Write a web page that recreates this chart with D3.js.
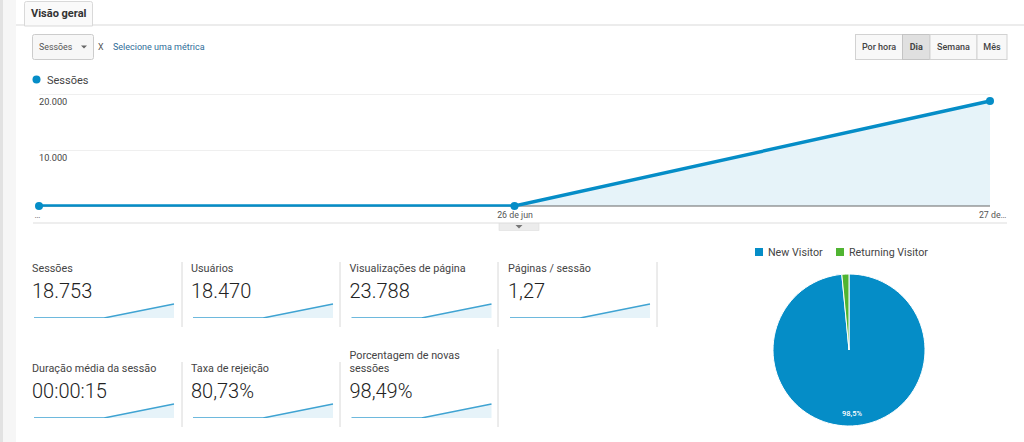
<!DOCTYPE html>
<html>
  <head>
    <meta charset="utf-8">
    <style>
      html, body { margin: 0; padding: 0; background: #fff; overflow: hidden; }
      svg { display: block; font-family: Roboto, sans-serif; }
      .axis .domain { display: none; }
    </style>
  </head>
  <body>
    <script src="https://d3js.org/d3.v7.min.js"></script>
    <script type="text/javascript">
      const dates = ['…', '26 de jun', '27 de…'];
      const sessions = [0, 0, 18753];
      const yTicks = [10000, 20000];
      const yTickLabels = ['10.000', '20.000'];

      const cardTitles = [
        ['Sessões'], ['Usuários'], ['Visualizações de página'], ['Páginas / sessão'],
        ['Duração média da sessão'], ['Taxa de rejeição'], ['Porcentagem de novas', 'sessões'],
      ];
      const cardValues = ['18.753', '18.470', '23.788', '1,27', '00:00:15', '80,73%', '98,49%'];
      const sparkValues = [
        [0, 0, 18753], [0, 0, 18470], [0, 0, 23788], [0, 0, 1.27],
        [0, 0, 15], [0, 0, 80.73], [0, 0, 98.49],
      ];

      const visitorTypes = ['New Visitor', 'Returning Visitor'];
      const visitorShares = [98.49, 1.51];
      const visitorColors = ['#058dc7', '#50b432'];

      const periods = ['Por hora', 'Dia', 'Semana', 'Mês'];

      const blue = '#058dc7';
      const textColor = '#444';

      const svg = d3.select('body').append('svg')
        .attr('width', 1024)
        .attr('height', 442);

      // clips cut the flat part of the lines at the baseline
      const defs = svg.append('defs');
      defs.append('clipPath').attr('id', 'main-clip')
        .append('rect').attr('x', 30).attr('y', 90).attr('width', 970).attr('height', 116.8);
      defs.append('clipPath').attr('id', 'spark-clip')
        .append('rect').attr('x', 0).attr('y', 28).attr('width', 144).attr('height', 18);

      // page chrome
      svg.append('rect').attr('width', 3).attr('height', 442).attr('fill', '#e2e2e2');
      svg.append('rect').attr('x', 3).attr('width', 13).attr('height', 442).attr('fill', '#f6f6f6');
      svg.append('line').attr('x1', 16).attr('x2', 1024).attr('y1', 25).attr('y2', 25)
        .attr('stroke', '#d9d9d9').attr('stroke-width', 1.2);
      svg.append('path')
        .attr('d', 'M24.5,26V3.5q0,-2 2,-2H90.5q2,0 2,2V26Z')
        .attr('fill', '#fafafa').attr('stroke', '#d9d9d9');
      svg.append('text').attr('x', 31).attr('y', 17)
        .attr('font-size', 11).attr('font-weight', 700).attr('fill', '#333')
        .text('Visão geral');

      // metric selector
      svg.append('rect').attr('x', 32.5).attr('y', 34.5).attr('width', 61).attr('height', 25).attr('rx', 2)
        .attr('fill', '#f7f7f7').attr('stroke', '#ccc');
      svg.append('text').attr('x', 39).attr('y', 50).attr('font-size', 8.8).attr('fill', '#555').text('Sessões');
      svg.append('path').attr('d', 'M81,45.5h6l-3,3Z').attr('fill', '#666');
      svg.append('text').attr('x', 98).attr('y', 50).attr('font-size', 8.8).attr('fill', '#555').text('X');
      svg.append('text').attr('x', 113).attr('y', 50).attr('font-size', 9).attr('fill', '#2f6d99')
        .text('Selecione uma métrica');

      // period buttons
      const periodEdges = [855.5, 902.5, 930, 977, 1007];
      const buttons = svg.append('g').selectAll('g').data(periods).enter().append('g');
      buttons.append('rect')
        .attr('x', (d, i) => periodEdges[i])
        .attr('y', 34.5)
        .attr('width', (d, i) => periodEdges[i + 1] - periodEdges[i])
        .attr('height', 25)
        .attr('fill', (d) => d === 'Dia' ? '#e0e0e0' : '#f8f8f8')
        .attr('stroke', (d) => d === 'Dia' ? '#c4c4c4' : '#d2d2d2');
      buttons.append('text')
        .attr('x', (d, i) => (periodEdges[i] + periodEdges[i + 1]) / 2)
        .attr('y', 50)
        .attr('text-anchor', 'middle')
        .attr('font-size', 9)
        .attr('font-weight', (d) => d === 'Dia' ? 700 : 500)
        .attr('fill', '#444')
        .text((d) => d);

      // main chart
      svg.append('circle').attr('cx', 36.5).attr('cy', 79.5).attr('r', 4).attr('fill', blue);
      svg.append('text').attr('x', 47).attr('y', 84).attr('font-size', 11).attr('fill', textColor).text('Sessões');

      const xScale = d3.scalePoint().domain(dates).range([39, 990]);
      const yScale = d3.scaleLinear().domain([0, 20000]).range([206, 94]);

      const yAxis = svg.append('g')
        .attr('class', 'axis')
        .attr('transform', 'translate(39,0)')
        .call(d3.axisRight(yScale)
          .tickValues(yTicks)
          .tickSize(951)
          .tickPadding(0)
          .tickFormat((d, i) => yTickLabels[i]));
      yAxis.selectAll('line').attr('stroke', '#efefef');
      yAxis.selectAll('text')
        .attr('x', 0)
        .attr('dy', 10)
        .attr('font-family', 'Roboto, sans-serif')
        .attr('font-size', 9.2)
        .attr('fill', textColor);

      const area = d3.area()
        .x((d, i) => xScale(dates[i]))
        .y0(yScale(0))
        .y1((d) => yScale(d));
      const line = d3.line()
        .x((d, i) => xScale(dates[i]))
        .y((d) => yScale(d));

      svg.append('path').datum(sessions).attr('d', area).attr('fill', '#e6f3f9');

      const xAxis = svg.append('g')
        .attr('class', 'axis')
        .attr('transform', 'translate(0,206)')
        .call(d3.axisBottom(xScale).tickSize(0).tickPadding(6));
      xAxis.selectAll('text')
        .attr('font-family', 'Roboto, sans-serif')
        .attr('font-size', 8.8)
        .attr('fill', '#555');
      xAxis.selectAll('.tick').filter((d, i) => i === 0).select('text').attr('text-anchor', 'start').attr('x', -5);
      xAxis.selectAll('.tick').filter((d, i) => i === 2).select('text').attr('text-anchor', 'end').attr('x', 16);

      svg.append('line')
        .attr('x1', xScale.range()[0]).attr('x2', xScale.range()[1])
        .attr('y1', yScale(0)).attr('y2', yScale(0))
        .attr('stroke', '#666').attr('stroke-width', 1);
      svg.append('path').datum(sessions).attr('d', line)
        .attr('clip-path', 'url(#main-clip)')
        .attr('fill', 'none').attr('stroke', blue).attr('stroke-width', 3.4);
      svg.append('g').selectAll('circle').data(sessions).enter().append('circle')
        .attr('cx', (d, i) => xScale(dates[i]))
        .attr('cy', (d) => yScale(d))
        .attr('r', 4)
        .attr('fill', blue);

      // collapse bar under the chart
      svg.append('line').attr('x1', 33).attr('x2', 1007).attr('y1', 223).attr('y2', 223)
        .attr('stroke', '#ddd').attr('stroke-width', 1.2);
      svg.append('rect').attr('x', 499).attr('y', 223.5).attr('width', 40).attr('height', 7)
        .attr('fill', '#ececec').attr('stroke', '#dedede').attr('stroke-width', 0.6);
      svg.append('path').attr('d', 'M515.5,225h7l-3.5,3.5Z').attr('fill', '#777');

      // scorecards
      const cardX = [32, 191, 349.5, 508];
      const cardRowY = [272, 372];
      const cards = svg.append('g').selectAll('g').data(cardTitles).enter().append('g')
        .attr('transform', (d, i) => `translate(${cardX[i % 4]},${cardRowY[Math.floor(i / 4)]})`);

      cards.each(function (titles, i) {
        const card = d3.select(this);
        const lift = titles.length > 1 ? -13 : 0;
        titles.forEach((t, j) => {
          card.append('text')
            .attr('y', lift + j * 13)
            .attr('font-size', 10.8)
            .attr('fill', textColor)
            .text(t);
        });
        card.append('text')
          .attr('y', 26)
          .attr('font-size', 20)
          .attr('font-weight', 300)
          .attr('fill', '#222')
          .text(cardValues[i]);

        // sparkline, shares the shape of the main chart
        const values = sparkValues[i];
        const sx = d3.scalePoint().domain(dates).range([2, 142]);
        const sy = d3.scaleLinear().domain([0, d3.max(values)]).range([46, 32]);
        card.append('path').datum(values)
          .attr('d', d3.area().x((d, k) => sx(dates[k])).y0(46).y1((d) => sy(d)))
          .attr('fill', '#e6f3f9');
        card.append('path').datum(values)
          .attr('d', d3.line().x((d, k) => sx(dates[k])).y((d) => sy(d)))
          .attr('clip-path', 'url(#spark-clip)')
          .attr('fill', 'none')
          .attr('stroke', '#3fa3d2')
          .attr('stroke-width', 1.5);
      });

      // dividers between cards
      const dividerSegments = [
        [182, 262, 327], [340, 262, 327], [498, 262, 327], [657, 262, 327],
        [182, 362, 427], [340, 362, 427], [498, 349, 427],
      ];
      svg.append('g').selectAll('line').data(dividerSegments).enter().append('line')
        .attr('x1', (d) => d[0]).attr('x2', (d) => d[0])
        .attr('y1', (d) => d[1]).attr('y2', (d) => d[2])
        .attr('stroke', '#d8d8d8');

      // pie
      const legendX = [755, 836];
      const legend = svg.append('g').selectAll('g').data(visitorTypes).enter().append('g')
        .attr('transform', (d, i) => `translate(${legendX[i]},248)`);
      legend.append('rect').attr('width', 8).attr('height', 8).attr('fill', (d, i) => visitorColors[i]);
      legend.append('text').attr('x', 13).attr('y', 8).attr('font-size', 10.7).attr('fill', textColor).text((d) => d);

      const pie = d3.pie().sort(null)(visitorShares);
      const arc = d3.arc().innerRadius(0).outerRadius(76);
      const pieGroup = svg.append('g').attr('transform', 'translate(849,350)');
      pieGroup.selectAll('path').data(pie).enter().append('path')
        .attr('d', arc)
        .attr('fill', (d, i) => visitorColors[i])
        .attr('stroke', '#fff')
        .attr('stroke-width', 1);
      const labelArc = d3.arc().innerRadius(63).outerRadius(63);
      pieGroup.append('text')
        .attr('transform', `translate(${labelArc.centroid(pie[0])})`)
        .attr('text-anchor', 'middle')
        .attr('dy', '0.35em')
        .attr('font-size', 7.5)
        .attr('font-weight', 500)
        .attr('fill', '#fff')
        .text('98,5%');
    </script>
  </body>
</html>
